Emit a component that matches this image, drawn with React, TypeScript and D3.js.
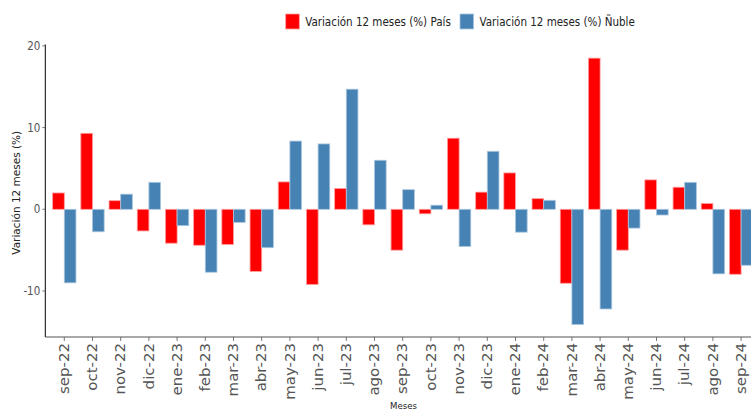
import React, { useEffect } from "react";
import * as d3 from "d3";

const meses = [
  "sep-22", "oct-22", "nov-22", "dic-22", "ene-23", "feb-23", "mar-23", "abr-23",
  "may-23", "jun-23", "jul-23", "ago-23", "sep-23", "oct-23", "nov-23", "dic-23",
  "ene-24", "feb-24", "mar-24", "abr-24", "may-24", "jun-24", "jul-24", "ago-24", "sep-24",
];

const pais = [
  2.0, 9.3, 1.05, -2.65, -4.15, -4.4, -4.3, -7.6,
  3.35, -9.2, 2.55, -1.9, -5.0, -0.55, 8.7, 2.1,
  4.45, 1.3, -9.05, 18.5, -5.0, 3.6, 2.7, 0.7, -7.95,
];

const nuble = [
  -9.0, -2.75, 1.85, 3.3, -2.0, -7.7, -1.6, -4.7,
  8.35, 8.0, 14.7, 6.0, 2.4, 0.5, -4.55, 7.1,
  -2.8, 1.1, -14.1, -12.2, -2.3, -0.7, 3.3, -7.9, -6.85,
];

const yTicks = [-10, 0, 10, 20];

const series = [
  { key: "pais", label: "Variación 12 meses (%) País", values: pais, fill: "#ff0000", stroke: "#ff9c9c" },
  { key: "nuble", label: "Variación 12 meses (%) Ñuble", values: nuble, fill: "#4682b4", stroke: "#a9c6df" },
];

const W = 751;
const H = 410;
const cond = "'DejaVu Sans Condensed', 'DejaVu Sans', sans-serif";
const sans = "'DejaVu Sans', sans-serif";

export default function App() {
  useEffect(() => {
    document.body.style.margin = "0";
  }, []);

  const x = d3.scaleBand<string>().domain(meses).range([50.2, 755.2]).padding(0);
  const xi = d3
    .scaleBand<string>()
    .domain(series.map((s) => s.key))
    .range([0, x.bandwidth()])
    .paddingInner(0)
    .paddingOuter(0.21);
  const y = d3.scaleLinear().domain([-15.63, 20.17]).range([337, 44.5]);

  const left = 45.3;
  const bottom = 337;

  return (
    <svg width={W} height={H} style={{ display: "block" }}>
      <rect width={W} height={H} fill="#ffffff" />

      {/* bars */}
      {series.map((s) => (
        <g key={s.key}>
          {s.values.map((v, i) => (
            <rect
              key={meses[i]}
              x={(x(meses[i]) ?? 0) + (xi(s.key) ?? 0)}
              y={y(Math.max(0, v))}
              width={xi.bandwidth()}
              height={Math.abs(y(v) - y(0))}
              fill={s.fill}
              stroke={s.stroke}
              strokeWidth={0.8}
            />
          ))}
        </g>
      ))}

      {/* y axis */}
      <line x1={left} x2={left} y1={44.5} y2={bottom} stroke="#000" strokeWidth={1} />
      {yTicks.map((t) => (
        <g key={t} transform={`translate(0,${y(t)})`}>
          <line x1={left - 3} x2={left} stroke="#555" strokeWidth={0.8} />
          <text x={left - 5} dy="0.35em" textAnchor="end" fontFamily={cond} fontSize={11.5} fill="#555">
            {t}
          </text>
        </g>
      ))}
      <text
        transform={`translate(20,${(44.5 + bottom) / 2 + 2}) rotate(-90)`}
        textAnchor="middle"
        fontFamily={sans}
        fontSize={10.5}
        fill="#222"
      >
        Variación 12 meses (%)
      </text>

      {/* x axis */}
      <line x1={left} x2={W} y1={bottom} y2={bottom} stroke="#555" strokeWidth={1.2} />
      {meses.map((m) => {
        const cx = (x(m) ?? 0) + x.bandwidth() / 2;
        return (
          <g key={m} transform={`translate(${cx},0)`}>
            <line y1={bottom} y2={bottom + 4} stroke="#555" strokeWidth={0.8} />
            <text
              transform={`translate(0,${bottom + 6}) scale(0.88,1) rotate(-90)`}
              dy="0.36em"
              textAnchor="end"
              fontFamily={sans}
              fontSize={15}
              fill="#555"
            >
              {m}
            </text>
          </g>
        );
      })}
      <text x={403.5} y={409} textAnchor="middle" fontFamily={cond} fontSize={9.5} fill="#222">
        Meses
      </text>

      {/* legend */}
      <g transform="translate(285.7,14)">
        <rect width={13.6} height={15} fill={series[0].fill} stroke={series[0].stroke} strokeWidth={0.8} />
        <text x={19.5} y={12} fontFamily={cond} fontSize={11.5} fill="#222">
          {series[0].label}
        </text>
      </g>
      <g transform="translate(460,14)">
        <rect width={13.6} height={15} fill={series[1].fill} stroke={series[1].stroke} strokeWidth={0.8} />
        <text x={19.5} y={12} fontFamily={cond} fontSize={11.5} fill="#222">
          {series[1].label}
        </text>
      </g>
    </svg>
  );
}
